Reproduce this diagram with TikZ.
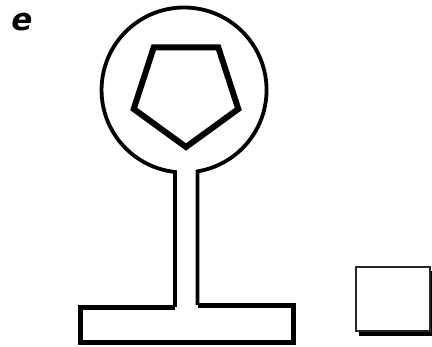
\documentclass[tikz,border=0pt]{standalone}
\usepackage{fontspec}
\usepackage{tikz}
\newfontfamily\tagfont{DejaVu Sans}
\tikzset{x=1pt, y=1pt,
ringline/.style={line width=3.8pt},
pentline/.style={line width=6pt, line join=miter},
footline/.style={line width=5pt, line join=miter},
boxline/.style={line width=2pt, draw=black!85, fill=white},
}

\begin{document}
\begin{tikzpicture}
	\useasboundingbox (0,0) rectangle (432,347);
	\node (tag) at (22,325) {\tagfont\fontsize{31}{34}\selectfont\bfseries\itshape e};
	% ring and stem
	\draw[ringline] (175,40) -- (175,175) arc (263.7:-80.6:82.5) -- (197.5,42);
	\draw[pentline] (186,200) -- (238.3,238) -- (218.3,299.5) -- (153.7,299.5) -- (133.7,238) -- cycle;
	% foot
	\draw[footline] (175,39) -- (80,39) -- (80,4) -- (293,4) -- (293,41) -- (197.5,41);
	% small box with shadow
	\fill (359,10.5) rectangle (434,76);
	\draw[boxline] (356,16) rectangle (430,80);
\end{tikzpicture}
\end{document}
